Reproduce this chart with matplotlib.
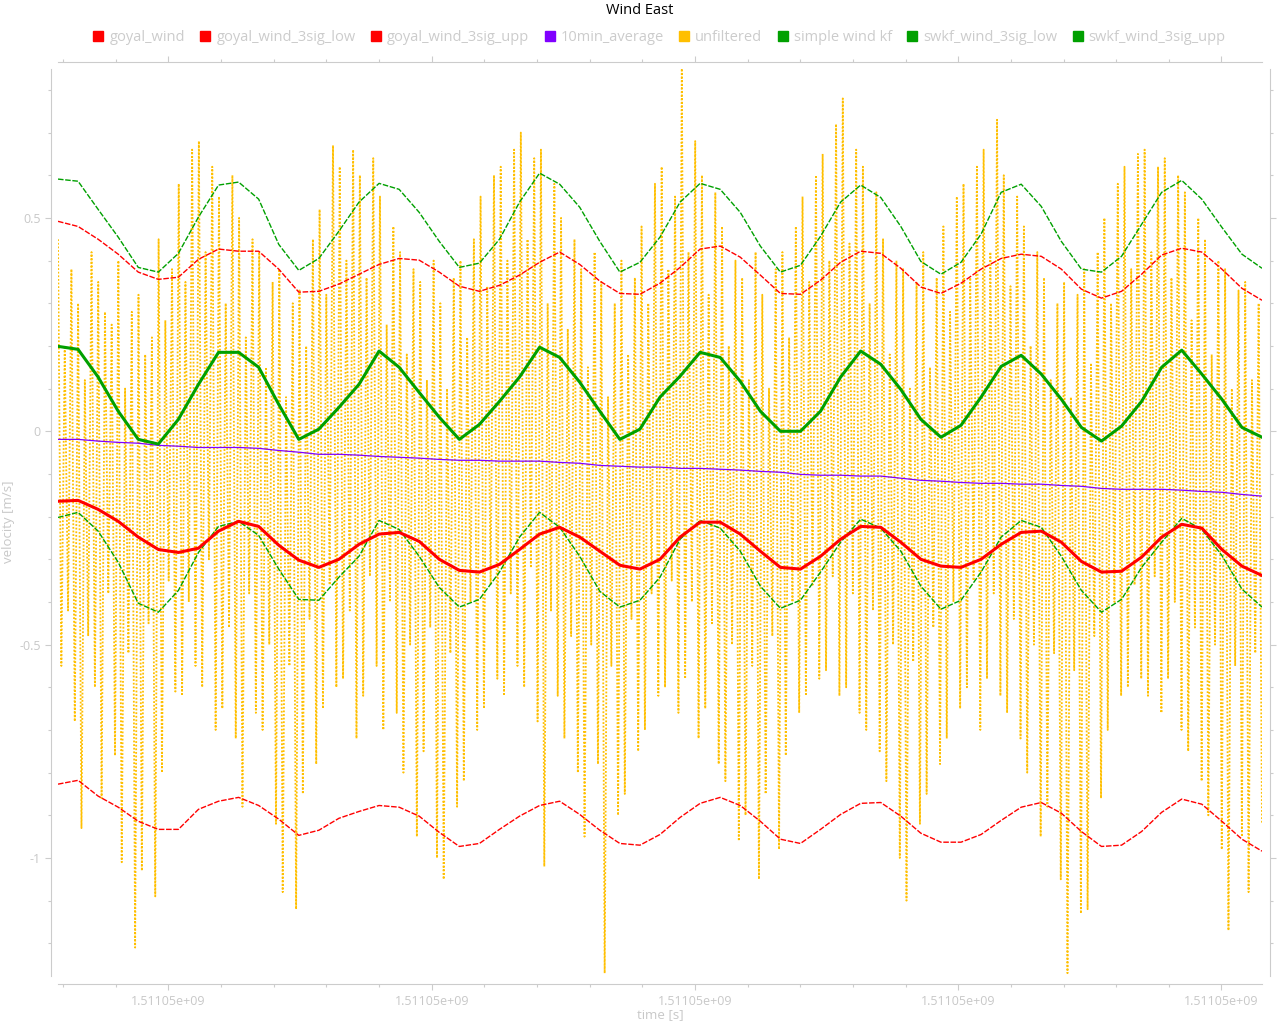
import numpy as np
import matplotlib
matplotlib.use("Agg")
import matplotlib.pyplot as plt
from matplotlib.ticker import MultipleLocator, FormatStrFormatter
from matplotlib.lines import Line2D

plt.rcParams['font.family'] = ['Open Sans', 'DejaVu Sans']
plt.rcParams['axes.unicode_minus'] = False

# sample time span [s]
T_START = 1511050058.06
T_END = 1511050515.40

goyal_wind = [-0.164, -0.162, -0.183, -0.211, -0.248, -0.277, -0.284, -0.274, -0.234, -0.211,
              -0.223, -0.267, -0.302, -0.319, -0.300, -0.265, -0.241, -0.237, -0.258, -0.300,
              -0.326, -0.330, -0.312, -0.277, -0.241, -0.225, -0.248, -0.281, -0.314, -0.323,
              -0.300, -0.248, -0.213, -0.213, -0.241, -0.281, -0.319, -0.323, -0.293, -0.253,
              -0.223, -0.225, -0.260, -0.300, -0.316, -0.319, -0.300, -0.265, -0.237, -0.234,
              -0.260, -0.305, -0.330, -0.328, -0.295, -0.248, -0.218, -0.227, -0.277, -0.316,
              -0.338]
goyal_low = [-0.827, -0.818, -0.855, -0.881, -0.914, -0.933, -0.933, -0.886, -0.867, -0.858,
             -0.877, -0.909, -0.947, -0.935, -0.907, -0.891, -0.877, -0.881, -0.902, -0.940,
             -0.973, -0.966, -0.933, -0.902, -0.877, -0.867, -0.898, -0.935, -0.966, -0.970,
             -0.945, -0.905, -0.872, -0.858, -0.877, -0.914, -0.956, -0.966, -0.933, -0.898,
             -0.872, -0.870, -0.902, -0.942, -0.963, -0.963, -0.945, -0.912, -0.881, -0.870,
             -0.895, -0.938, -0.973, -0.970, -0.938, -0.893, -0.862, -0.874, -0.914, -0.956,
             -0.984]
goyal_upp = [0.492, 0.480, 0.450, 0.415, 0.373, 0.356, 0.361, 0.403, 0.427, 0.422,
             0.422, 0.380, 0.326, 0.328, 0.345, 0.368, 0.391, 0.405, 0.401, 0.373,
             0.340, 0.328, 0.342, 0.366, 0.396, 0.420, 0.391, 0.352, 0.323, 0.321,
             0.347, 0.384, 0.427, 0.434, 0.408, 0.366, 0.323, 0.321, 0.354, 0.396,
             0.422, 0.417, 0.382, 0.338, 0.323, 0.347, 0.380, 0.405, 0.415, 0.410,
             0.380, 0.333, 0.312, 0.328, 0.368, 0.413, 0.429, 0.420, 0.380, 0.335,
             0.307]
avg_10min = [-0.019, -0.019, -0.023, -0.026, -0.028, -0.033, -0.035, -0.038, -0.038, -0.038,
             -0.040, -0.045, -0.049, -0.054, -0.054, -0.056, -0.059, -0.061, -0.063, -0.066,
             -0.068, -0.068, -0.070, -0.070, -0.070, -0.073, -0.075, -0.080, -0.082, -0.084,
             -0.084, -0.087, -0.087, -0.089, -0.091, -0.094, -0.096, -0.101, -0.103, -0.103,
             -0.105, -0.105, -0.110, -0.115, -0.117, -0.120, -0.122, -0.122, -0.124, -0.124,
             -0.127, -0.129, -0.134, -0.136, -0.136, -0.136, -0.138, -0.141, -0.143, -0.148,
             -0.152]
kf_wind = [0.199, 0.192, 0.127, 0.047, -0.019, -0.030, 0.028, 0.110, 0.185, 0.185,
           0.150, 0.063, -0.019, 0.005, 0.056, 0.110, 0.188, 0.150, 0.091, 0.033,
           -0.019, 0.016, 0.070, 0.127, 0.197, 0.173, 0.115, 0.047, -0.019, 0.005,
           0.080, 0.129, 0.185, 0.173, 0.117, 0.047, 0.000, 0.000, 0.047, 0.127,
           0.188, 0.157, 0.098, 0.028, -0.014, 0.014, 0.080, 0.152, 0.178, 0.134,
           0.075, 0.009, -0.023, 0.012, 0.070, 0.150, 0.190, 0.134, 0.075, 0.009,
           -0.014]
kf_low = [-0.202, -0.190, -0.234, -0.307, -0.403, -0.424, -0.373, -0.284, -0.223, -0.211,
          -0.244, -0.323, -0.394, -0.396, -0.342, -0.293, -0.209, -0.230, -0.293, -0.366,
          -0.412, -0.394, -0.330, -0.248, -0.190, -0.225, -0.293, -0.375, -0.412, -0.396,
          -0.342, -0.253, -0.209, -0.227, -0.281, -0.363, -0.415, -0.396, -0.330, -0.260,
          -0.206, -0.227, -0.281, -0.363, -0.417, -0.396, -0.330, -0.248, -0.209, -0.225,
          -0.293, -0.373, -0.424, -0.394, -0.319, -0.260, -0.204, -0.230, -0.291, -0.370,
          -0.412]
kf_upp = [0.591, 0.586, 0.520, 0.455, 0.384, 0.373, 0.417, 0.502, 0.577, 0.584,
          0.544, 0.438, 0.377, 0.405, 0.469, 0.537, 0.581, 0.567, 0.513, 0.445,
          0.384, 0.394, 0.450, 0.537, 0.605, 0.579, 0.525, 0.445, 0.373, 0.396,
          0.455, 0.537, 0.581, 0.567, 0.513, 0.434, 0.373, 0.389, 0.457, 0.537,
          0.577, 0.548, 0.480, 0.398, 0.368, 0.396, 0.462, 0.560, 0.579, 0.527,
          0.445, 0.380, 0.373, 0.410, 0.485, 0.560, 0.588, 0.544, 0.478, 0.415,
          0.382]
unfiltered = [
    0.45, -0.55, 0.20, -0.42, 0.38, -0.68,   0.30, -0.93, 0.12, -0.48, 0.42, -0.60,
    0.35, -0.86, 0.28, -0.38, 0.25, -0.76,   0.40, -1.01, 0.10, -0.52, 0.28, -1.21,
    0.32, -1.03, 0.18, -0.45, 0.22, -1.09,   0.45, -0.80, 0.26, -0.35, 0.38, -0.61,
    0.58, -0.62, 0.35, -0.40, 0.66, -0.55,   0.68, -0.60, 0.42, -0.30, 0.62, -0.70,
    0.55, -0.65, 0.30, -0.46, 0.60, -0.72,   0.50, -0.88, 0.22, -0.38, 0.45, -0.66,
    0.42, -0.70, 0.15, -0.50, 0.35, -0.92,   0.38, -1.08, 0.08, -0.55, 0.30, -1.12,
    0.33, -0.85, 0.20, -0.44, 0.45, -0.78,   0.52, -0.65, 0.32, -0.36, 0.67, -0.60,
    0.62, -0.58, 0.40, -0.42, 0.66, -0.72,   0.60, -0.62, 0.36, -0.34, 0.64, -0.55,
    0.55, -0.70, 0.25, -0.40, 0.48, -0.66,   0.42, -0.80, 0.18, -0.50, 0.38, -0.95,
    0.35, -0.75, 0.12, -0.46, 0.40, -1.00,   0.30, -1.05, 0.10, -0.52, 0.36, -0.88,
    0.40, -0.82, 0.22, -0.40, 0.45, -0.70,   0.55, -0.65, 0.34, -0.36, 0.60, -0.58,
    0.62, -0.62, 0.40, -0.38, 0.66, -0.55,   0.70, -0.60, 0.45, -0.32, 0.64, -0.68,
    0.66, -1.02, 0.30, -0.42, 0.58, -0.62,   0.50, -0.72, 0.24, -0.48, 0.45, -0.80,
    0.38, -0.95, 0.15, -0.50, 0.42, -0.78,   0.35, -1.27, 0.08, -0.55, 0.30, -0.90,
    0.40, -0.85, 0.18, -0.44, 0.36, -0.75,   0.48, -0.70, 0.30, -0.38, 0.58, -0.62,
    0.62, -0.60, 0.38, -0.35, 0.55, -0.66,   0.85, -0.58, 0.42, -0.40, 0.68, -0.72,
    0.60, -0.65, 0.32, -0.45, 0.56, -0.78,   0.48, -0.82, 0.20, -0.50, 0.40, -0.96,
    0.36, -0.90, 0.12, -0.55, 0.42, -1.05,   0.32, -0.85, 0.10, -0.48, 0.38, -0.98,
    0.42, -0.76, 0.22, -0.40, 0.48, -0.66,   0.55, -0.62, 0.35, -0.36, 0.60, -0.58,
    0.65, -0.56, 0.40, -0.34, 0.72, -0.62,   0.78, -0.60, 0.44, -0.38, 0.66, -0.66,
    0.62, -0.70, 0.30, -0.42, 0.56, -0.75,   0.45, -0.82, 0.18, -0.50, 0.40, -1.00,
    0.38, -1.10, 0.10, -0.54, 0.35, -0.92,   0.42, -0.85, 0.15, -0.46, 0.36, -0.78,
    0.48, -0.72, 0.28, -0.40, 0.55, -0.65,   0.58, -0.60, 0.36, -0.35, 0.62, -0.70,
    0.66, -0.58, 0.42, -0.38, 0.73, -0.62,   0.60, -0.66, 0.34, -0.44, 0.55, -0.72,
    0.48, -0.80, 0.20, -0.50, 0.42, -0.95,   0.36, -0.88, 0.12, -0.52, 0.30, -1.05,
    0.35, -1.27, 0.08, -0.56, 0.32, -1.13,   0.38, -1.12, 0.16, -0.48, 0.42, -0.86,
    0.50, -0.70, 0.30, -0.40, 0.58, -0.62,   0.62, -0.60, 0.38, -0.36, 0.65, -0.58,
    0.66, -0.62, 0.42, -0.34, 0.62, -0.66,   0.64, -0.58, 0.36, -0.40, 0.60, -0.70,
    0.56, -0.75, 0.26, -0.46, 0.50, -0.82,   0.45, -0.90, 0.18, -0.50, 0.40, -0.98,
    0.38, -1.17, 0.10, -0.55, 0.33, -0.95,   0.35, -1.08, 0.12, -0.52, 0.30, -0.92]

names = ['goyal_wind', 'goyal_wind_3sig_low', 'goyal_wind_3sig_upp', '10min_average',
         'unfiltered', 'simple wind kf', 'swkf_wind_3sig_low', 'swkf_wind_3sig_upp']
colors = ['#ff0000', '#ff0000', '#ff0000', '#8000ff', '#ffbf00', '#00a000', '#00a000', '#00a000']

t = np.linspace(T_START, T_END, len(kf_wind))
t_raw = np.linspace(T_START, T_END, len(unfiltered))

fig = plt.figure(figsize=(12.8, 10.24), dpi=100)
ax = fig.add_axes([58/1280, 1 - 976/1024, 1204/1280, 907/1024])

thin = (0, (4, 1.2))
ax.plot(t_raw, unfiltered, color=colors[4], lw=1.3, ls=(0, (1, 1)), zorder=1)
ax.plot(t, goyal_low, color=colors[1], lw=1.0, ls=thin, zorder=2)
ax.plot(t, goyal_upp, color=colors[2], lw=1.0, ls=thin, zorder=2)
ax.plot(t, kf_low, color=colors[6], lw=1.0, ls=thin, zorder=2)
ax.plot(t, kf_upp, color=colors[7], lw=1.0, ls=thin, zorder=2)
ax.plot(t, avg_10min, color=colors[3], lw=0.9, zorder=3)
ax.plot(t, goyal_wind, color=colors[0], lw=2.2, zorder=3)
ax.plot(t, kf_wind, color=colors[5], lw=2.2, zorder=3)

ax.set_xlim(T_START, T_END)
ax.set_ylim(-1.2766, 0.849)

grey = '#cccccc'
for side in ['left', 'right', 'top', 'bottom']:
    ax.spines[side].set_color(grey)
    ax.spines[side].set_linewidth(0.8)
ax.spines['left'].set_position(('outward', 5))
ax.spines['right'].set_position(('outward', 6))
ax.spines['top'].set_position(('outward', 5))
ax.spines['bottom'].set_position(('outward', 6))

ax.xaxis.set_major_locator(MultipleLocator(100))
ax.xaxis.set_minor_locator(MultipleLocator(20))
ax.yaxis.set_major_locator(MultipleLocator(0.5))
ax.yaxis.set_minor_locator(MultipleLocator(0.1))
ax.xaxis.set_major_formatter(FormatStrFormatter('%g'))
ax.yaxis.set_major_formatter(FormatStrFormatter('%g'))
ax.tick_params(which='both', direction='out', color=grey, labelcolor='#c8c8c8',
               labelsize=9, top=True, right=True, width=0.8)
ax.tick_params(which='major', length=4)
ax.tick_params(which='minor', length=2.5)

ax.set_xlabel('time [s]', color='#c8c8c8', fontsize=9.5, labelpad=0)
fig.text(9/1280, 1 - 522/1024, 'velocity [m/s]', rotation=90, ha='center', va='center',
         color='#c8c8c8', fontsize=9.5)
fig.suptitle('Wind East', x=0.5, y=0.997, fontsize=10.5, color='black')

handles = [Line2D([], [], ls='none', marker='s', markersize=7, color=c) for c in colors]
fig.legend(handles, names, loc='center', bbox_to_anchor=(0.515, 0.963), ncol=8,
           frameon=False, fontsize=10.5, labelcolor='#cccccc', handletextpad=0.35,
           columnspacing=1.0, handlelength=0.8)

fig.savefig('out.png', dpi=100)
